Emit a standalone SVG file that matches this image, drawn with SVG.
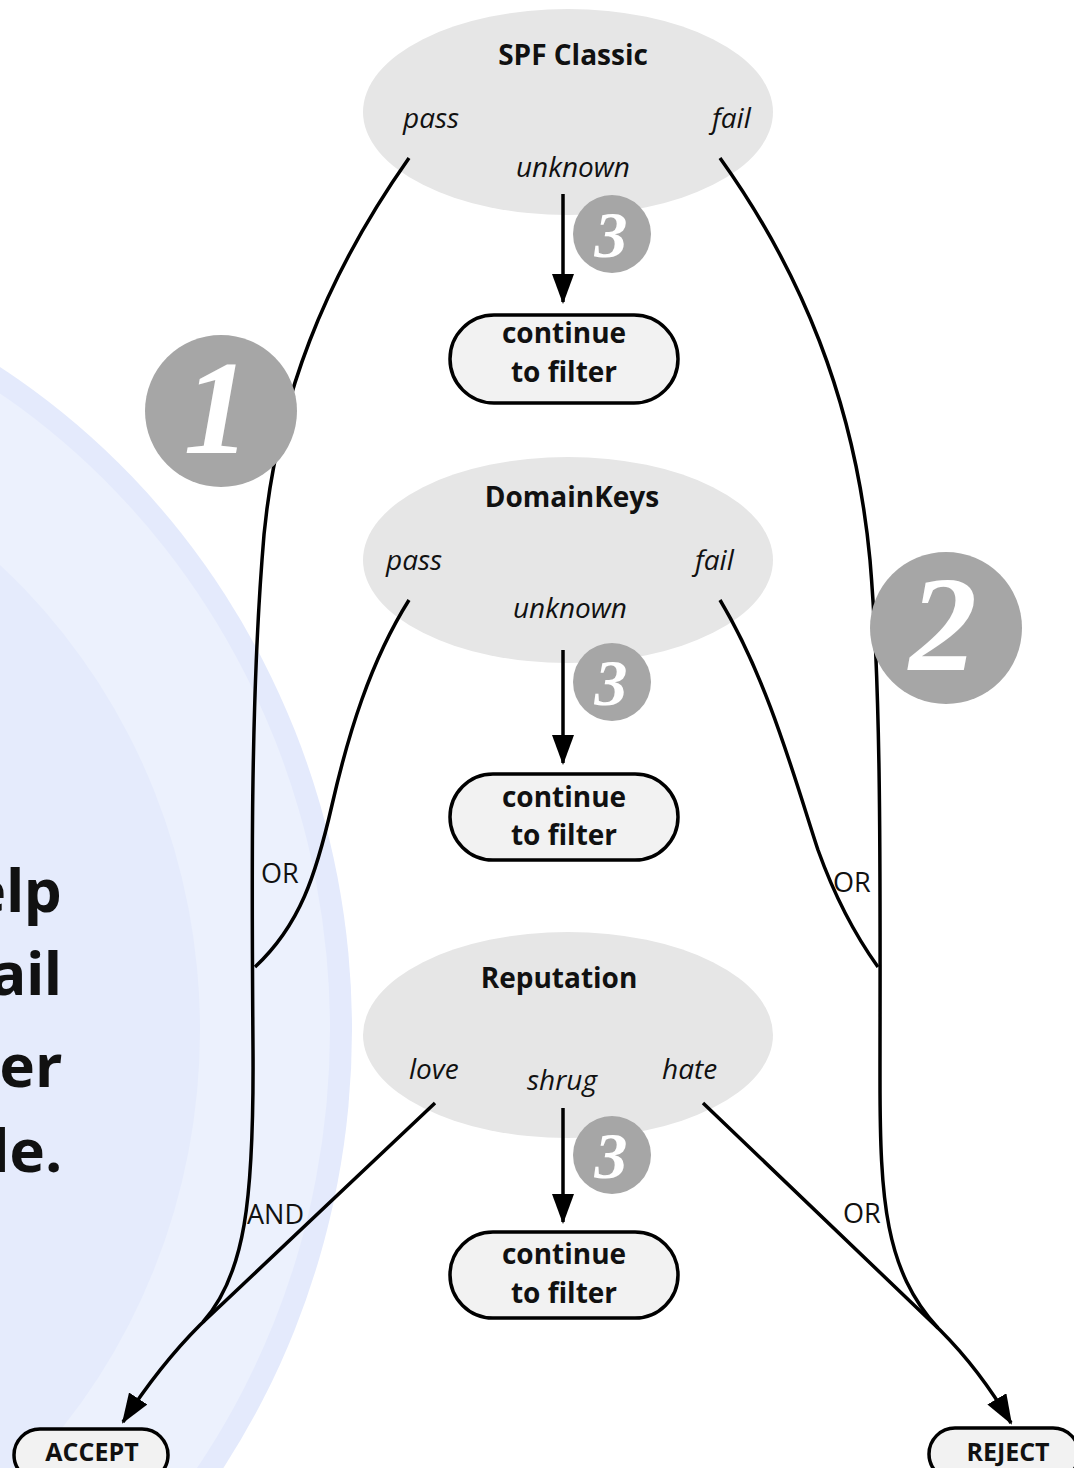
<svg xmlns="http://www.w3.org/2000/svg" width="1074" height="1468" viewBox="0 0 1074 1468">
<defs>
<style>
.title{font-family:"Open Sans","Noto Sans",sans-serif;font-weight:bold;font-size:28px;fill:#111;text-anchor:middle}
.lab{font-family:"Open Sans","Noto Sans",sans-serif;font-style:italic;font-size:28px;fill:#111}
.box{fill:#f2f2f2;stroke:#000;stroke-width:3.5}
.btxt{font-family:"Open Sans","Noto Sans",sans-serif;font-weight:bold;font-size:28px;fill:#111;text-anchor:middle}
.ell{fill:#e6e6e6}
.conn{fill:none;stroke:#000;stroke-width:3.5}
.op{font-family:"Open Sans","Noto Sans",sans-serif;font-size:27px;fill:#111}
.badge{fill:#a6a6a6}
.num{font-family:"Liberation Serif","Times New Roman",serif;font-style:italic;font-weight:bold;fill:#fff;text-anchor:middle}
.bg{font-family:"Noto Sans","DejaVu Sans",sans-serif;font-weight:bold;font-size:60px;fill:#111;text-anchor:end}
</style>
<marker id="ah" markerUnits="userSpaceOnUse" markerWidth="30" markerHeight="22" viewBox="0 0 30 22" refX="28" refY="11" orient="auto">
<path d="M0,0 L30,11 L0,22 Z" fill="#000"/>
</marker>
</defs>
<rect width="1074" height="1468" fill="#fff"/>
<g id="background">
<ellipse cx="-400" cy="1030" rx="752" ry="783" fill="#e4eafc"/>
<ellipse cx="-400" cy="1030" rx="730" ry="761" fill="#ecf1fd"/>
<ellipse cx="-400" cy="1030" rx="600" ry="624" fill="#e5ebfc"/>
<text class="bg" x="62" y="912">elp</text>
<text class="bg" x="62" y="995">ail</text>
<text class="bg" x="62" y="1087">er</text>
<text class="bg" x="62" y="1172">le.</text>
</g>
<g id="spf">
<ellipse class="ell" cx="568" cy="112" rx="205" ry="103"/>
<text class="title" x="573" y="65">SPF Classic</text>
<text class="lab" x="403" y="128">pass</text>
<text class="lab" x="712" y="128">fail</text>
<text class="lab" x="573" y="177" text-anchor="middle">unknown</text>
</g>
<g id="dk">
<ellipse class="ell" cx="568" cy="560" rx="205" ry="103"/>
<text class="title" x="572" y="507">DomainKeys</text>
<text class="lab" x="386" y="570">pass</text>
<text class="lab" x="695" y="570">fail</text>
<text class="lab" x="570" y="618" text-anchor="middle">unknown</text>
</g>
<g id="rep">
<ellipse class="ell" cx="568" cy="1035" rx="205" ry="103"/>
<text class="title" x="559" y="988">Reputation</text>
<text class="lab" x="409" y="1079">love</text>
<text class="lab" x="527" y="1090">shrug</text>
<text class="lab" x="662" y="1079">hate</text>
</g>
<g id="connectors">
<path class="conn" d="M409,158 C330,270 272,400 262,560 C250,720 252,900 253,1050 C254,1200 245,1275 203,1322"/>
<path class="conn" d="M409,600 C370,662 348,735 332,805 C316,875 300,925 255,967"/>
<path class="conn" d="M720,158 C800,270 855,400 870,560 C882,700 880,900 880,1080 C880,1200 885,1270 938,1328"/>
<path class="conn" d="M720,600 C768,680 795,780 818,850 C836,900 855,935 878,967"/>
<path class="conn" d="M435,1103 L200,1325 Q160,1365 123,1422" marker-end="url(#ah)"/>
<path class="conn" d="M703,1103 L940,1330 Q980,1370 1011,1423" marker-end="url(#ah)"/>
<path class="conn" d="M563,194 L563,302" marker-end="url(#ah)"/>
<path class="conn" d="M563,650 L563,763" marker-end="url(#ah)"/>
<path class="conn" d="M563,1108 L563,1222" marker-end="url(#ah)"/>
<text class="op" x="261" y="883">OR</text>
<text class="op" x="833" y="892">OR</text>
<text class="op" x="247" y="1224">AND</text>
<text class="op" x="843" y="1223">OR</text>
</g>
<g id="cont1">
<rect class="box" x="450" y="315" width="228" height="88" rx="44"/>
<text class="btxt" x="564" y="343">continue</text>
<text class="btxt" x="564" y="382">to filter</text>
</g>
<g id="cont2">
<rect class="box" x="450" y="774" width="228" height="86" rx="43"/>
<text class="btxt" x="564" y="807">continue</text>
<text class="btxt" x="564" y="845">to filter</text>
</g>
<g id="cont3">
<rect class="box" x="450" y="1232" width="228" height="86" rx="43"/>
<text class="btxt" x="564" y="1264">continue</text>
<text class="btxt" x="564" y="1303">to filter</text>
</g>
<g id="accept">
<rect class="box" x="14" y="1429" width="154" height="52" rx="26"/>
<text class="btxt" x="92" y="1461" style="font-size:25px">ACCEPT</text>
</g>
<g id="reject">
<rect class="box" x="929" y="1428" width="150" height="52" rx="26"/>
<text class="btxt" x="1008" y="1461" style="font-size:25px">REJECT</text>
</g>
<g id="badge1">
<circle class="badge" cx="221" cy="411" r="76"/>
<text class="num" x="217" y="453" style="font-size:134px">1</text>
</g>
<g id="badge2">
<circle class="badge" cx="946" cy="628" r="76"/>
<text class="num" x="943" y="670" style="font-size:136px">2</text>
</g>
<g id="badge3a">
<circle class="badge" cx="612" cy="234" r="39"/>
<text class="num" x="611" y="257" style="font-size:66px">3</text>
</g>
<g id="badge3b">
<circle class="badge" cx="612" cy="682" r="39"/>
<text class="num" x="611" y="705" style="font-size:66px">3</text>
</g>
<g id="badge3c">
<circle class="badge" cx="612" cy="1155" r="39"/>
<text class="num" x="611" y="1178" style="font-size:66px">3</text>
</g>
</svg>
